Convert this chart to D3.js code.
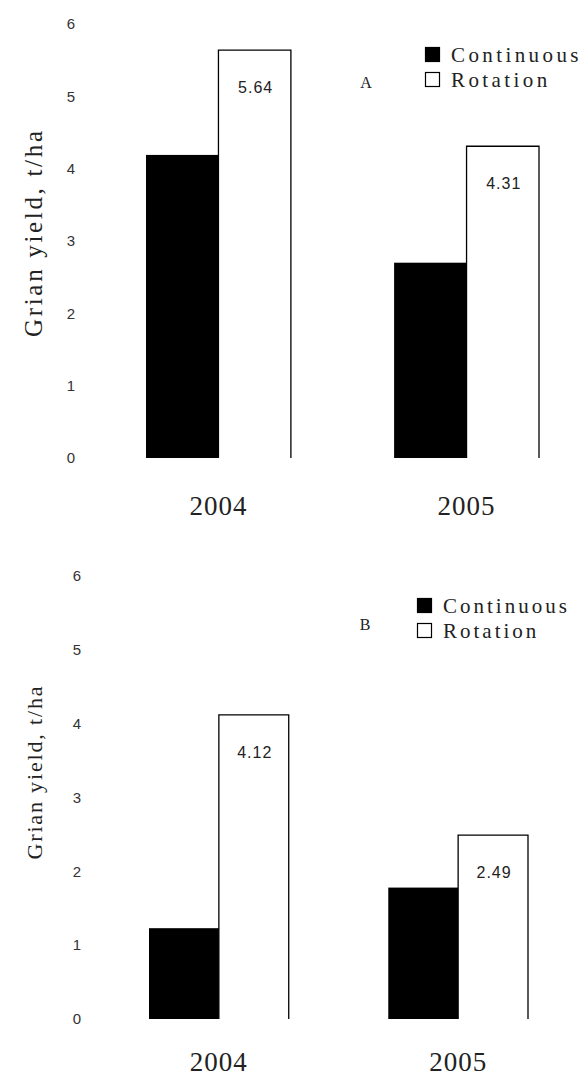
<!DOCTYPE html>
<html>
<head>
<meta charset="utf-8">
<script src="https://cdn.jsdelivr.net/npm/d3@7/dist/d3.min.js"></script>
<style>
  html, body { margin: 0; padding: 0; background: #fff; }
  svg { display: block; }
</style>
</head>
<body>
<div id="chart"></div>
<script>
// grain yield, continuous vs rotation, two panels (A and B)

const years = ['2004', '2005'];
const series = ['Continuous', 'Rotation'];
const yTicks = [0, 1, 2, 3, 4, 5, 6];

// panel A
const continuousA = [4.19, 2.70];
const rotationA = [5.64, 4.31];

// panel B
const continuousB = [1.23, 1.78];
const rotationB = [4.12, 2.49];

const W = 588, H = 1081;

const svg = d3.select('#chart')
  .append('svg')
  .attr('width', W)
  .attr('height', H);

// layout for each panel
const panels = [
  {
    name: 'A', cont: continuousA, rot: rotationA,
    xRange: [146, 539], yRange: [458, 24],
    tickX: 71, titleX: 42, titleY: 234, titleSize: 25, titleLen: 206,
    yearY: 515, legX: 425, legY: 47, letterX: 366, letterY: 88, legSpace: 3.4
  },
  {
    name: 'B', cont: continuousB, rot: rotationB,
    xRange: [149, 528], yRange: [1019, 576],
    tickX: 77, titleX: 42, titleY: 773, titleSize: 22, titleLen: 173,
    yearY: 1071, legX: 417, legY: 598, letterX: 365, letterY: 630, legSpace: 3
  }
];

panels.forEach(p => {
  const g = svg.append('g').attr('class', 'panel-' + p.name);

  const x = d3.scaleBand()
    .domain(years)
    .range(p.xRange)
    .paddingInner(0.416)
    .paddingOuter(0);

  const xs = d3.scaleBand()
    .domain(series)
    .range([0, x.bandwidth()]);

  const y = d3.scaleLinear()
    .domain([0, 6])
    .range(p.yRange);

  const rows = years.map((yr, i) => ({ year: yr, cont: p.cont[i], rot: p.rot[i] }));

  // y tick labels (no axis line, no tick marks)
  const yAxis = d3.axisLeft(y)
    .tickValues(yTicks)
    .tickSize(0)
    .tickPadding(0)
    .tickFormat(d3.format('d'));

  const ax = g.append('g')
    .attr('transform', `translate(${p.tickX}, 0)`)
    .call(yAxis);
  ax.select('.domain').remove();
  ax.selectAll('text')
    .attr('text-anchor', 'middle')
    .attr('x', 0)
    .style('font-family', '"Liberation Sans", Arial, sans-serif')
    .style('font-size', '15px')
    .style('fill', '#333');

  // continuous bars (solid black)
  g.selectAll('.bar-cont')
    .data(rows)
    .enter()
    .append('rect')
    .attr('class', 'bar-cont')
    .attr('x', d => x(d.year) + xs('Continuous'))
    .attr('y', d => y(d.cont))
    .attr('width', xs.bandwidth())
    .attr('height', d => y(0) - y(d.cont))
    .attr('fill', '#000');

  // rotation bars (open outline, no bottom edge)
  g.selectAll('.bar-rot')
    .data(rows)
    .enter()
    .append('path')
    .attr('class', 'bar-rot')
    .attr('d', d => {
      const x0 = x(d.year) + xs('Rotation');
      const x1 = x0 + xs.bandwidth();
      return `M${x0},${y(0)}V${y(d.rot)}H${x1}V${y(0)}`;
    })
    .attr('fill', 'none')
    .attr('stroke', '#000')
    .attr('stroke-width', 1.3);

  // value labels inside rotation bars
  g.selectAll('.val')
    .data(rows)
    .enter()
    .append('text')
    .attr('class', 'val')
    .attr('x', d => x(d.year) + xs('Rotation') + xs.bandwidth() / 2 + 1)
    .attr('y', d => y(d.rot) + 43)
    .attr('text-anchor', 'middle')
    .style('font-family', '"Liberation Sans", Arial, sans-serif')
    .style('font-size', '16px')
    .style('letter-spacing', '1px')
    .style('fill', '#222')
    .text(d => d3.format('.2f')(d.rot));

  // year labels
  g.selectAll('.year')
    .data(years)
    .enter()
    .append('text')
    .attr('class', 'year')
    .attr('x', d => x(d) + x.bandwidth() / 2)
    .attr('y', p.yearY)
    .attr('text-anchor', 'middle')
    .style('font-family', '"Liberation Serif", "Times New Roman", serif')
    .style('font-size', '27px')
    .style('letter-spacing', '1px')
    .style('fill', '#222')
    .text(d => d);

  // y axis title
  g.append('text')
    .attr('transform', `translate(${p.titleX}, ${p.titleY}) rotate(-90)`)
    .attr('text-anchor', 'middle')
    .attr('textLength', p.titleLen)
    .attr('lengthAdjust', 'spacing')
    .style('font-family', '"Liberation Serif", "Times New Roman", serif')
    .style('font-size', p.titleSize + 'px')
    .style('fill', '#222')
    .text('Grian yield, t/ha');

  // panel letter
  g.append('text')
    .attr('x', p.letterX)
    .attr('y', p.letterY)
    .attr('text-anchor', 'middle')
    .style('font-family', '"Liberation Serif", "Times New Roman", serif')
    .style('font-size', '16px')
    .style('fill', '#222')
    .text(p.name);

  // legend
  const leg = g.selectAll('.leg')
    .data(series)
    .enter()
    .append('g')
    .attr('class', 'leg')
    .attr('transform', (d, i) => `translate(${p.legX}, ${p.legY + i * 25})`);

  leg.append('rect')
    .attr('x', 0.5)
    .attr('y', 0.5)
    .attr('width', 14)
    .attr('height', 14)
    .attr('fill', d => d === 'Continuous' ? '#000' : '#fff')
    .attr('stroke', '#000')
    .attr('stroke-width', 1.2);

  leg.append('text')
    .attr('x', 26)
    .attr('y', 15)
    .style('font-family', '"Liberation Serif", "Times New Roman", serif')
    .style('font-size', '21px')
    .style('letter-spacing', p.legSpace + 'px')
    .style('fill', '#222')
    .text(d => d);
});
</script>
</body>
</html>
